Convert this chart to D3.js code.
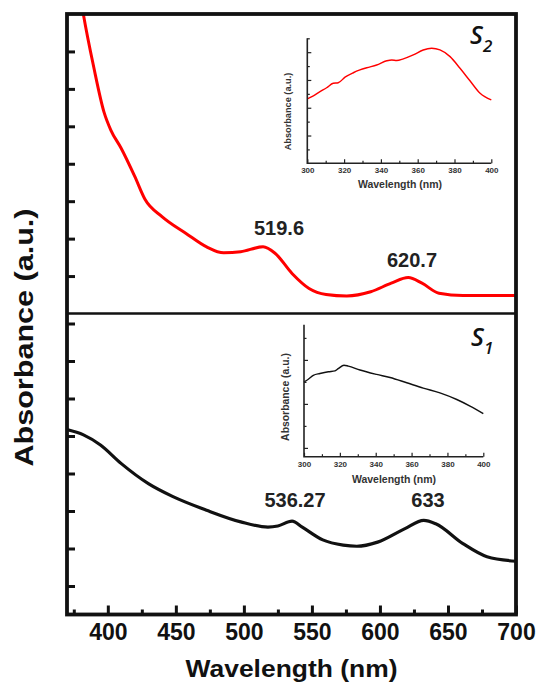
<!DOCTYPE html>
<html>
<head>
<meta charset="utf-8">
<script src="https://cdn.jsdelivr.net/npm/d3@7"></script>
<style>
  body { margin: 0; background: #fff; }
  text { font-family: Arial, "Liberation Sans", sans-serif; }
</style>
</head>
<body>
<div id="chart"></div>
<script>
// S2 (red) main spectrum, wavelength (nm) and absorbance (a.u.)
const s2Wavelength = [370, 376, 382, 389.6, 397.2, 402.2, 409.7, 419.8, 427.3, 439.8, 457.5, 472.6, 485.2, 497.7, 514.1, 522.9, 535.4, 547.9, 560.4, 575.6, 593.2, 608.3, 620.8, 630.9, 643.4, 661, 700];
const s2Absorbance = [11.0, 9.4, 8.0, 6.59, 5.38, 4.9, 4.42, 3.66, 3.05, 2.59, 2.14, 1.78, 1.62, 1.65, 1.78, 1.61, 1.07, 0.67, 0.51, 0.47, 0.58, 0.81, 0.96, 0.81, 0.54, 0.48, 0.48];

// S1 (black) main spectrum
const s1Wavelength = [370, 382.1, 394.6, 409.7, 429.8, 447.5, 472.6, 497.7, 517.7, 525, 535.4, 542.9, 558, 573, 583, 598.3, 618.4, 632.2, 641, 661, 678.7, 700];
const s1Absorbance = [5.17, 5.03, 4.76, 4.27, 3.73, 3.39, 3.02, 2.71, 2.57, 2.6, 2.73, 2.57, 2.23, 2.09, 2.06, 2.17, 2.53, 2.75, 2.66, 2.13, 1.78, 1.66];

// inset spectra (300-400 nm)
const s2InsetWavelength = [300, 303.3, 306.9, 310.5, 314.1, 316.8, 320.5, 325, 328.6, 332.3, 337.7, 343.2, 345.9, 348.6, 352.2, 357.6, 363, 367.6, 372.1, 377.6, 383, 388.4, 393.9, 400];
const s2InsetAbsorbance = [2.32, 2.43, 2.58, 2.72, 2.88, 2.9, 3.1, 3.26, 3.36, 3.44, 3.54, 3.69, 3.72, 3.7, 3.76, 3.9, 4.08, 4.14, 4.08, 3.84, 3.42, 2.97, 2.52, 2.28];

const s1InsetWavelength = [300, 302.4, 305.2, 308.9, 313.6, 317.3, 319.1, 322.3, 324.7, 331.2, 340.5, 348, 357.3, 366.5, 375.8, 385.2, 392.6, 400];
const s1InsetAbsorbance = [1.5, 1.56, 1.65, 1.69, 1.73, 1.75, 1.8, 1.88, 1.86, 1.77, 1.67, 1.6, 1.48, 1.36, 1.25, 1.1, 0.95, 0.78];

// tick values
const mainXTicks = [400, 450, 500, 550, 600, 650, 700];
const mainXMinorTicks = [375, 425, 475, 525, 575, 625, 675];
const topYTicks = [1, 2, 3, 4, 5, 6, 7];
const bottomYTicks = [1, 2, 3, 4, 5, 6, 7, 8];
const insetXTicks = [300, 320, 340, 360, 380, 400];
const insetXMinorTicks = [310, 330, 350, 370, 390];

// peak labels
const s2Peaks = [{ label: "519.6", x: 279, y: 235 }, { label: "620.7", x: 412, y: 267 }];
const s1Peaks = [{ label: "536.27", x: 295, y: 507 }, { label: "633", x: 428, y: 507 }];

const width = 537;
const height = 682;

const svg = d3.select("#chart")
  .append("svg")
  .attr("width", width)
  .attr("height", height);

svg.append("rect").attr("width", width).attr("height", height).attr("fill", "#fff");

const plotLeft = 67, plotRight = 516, plotTop = 14, plotMid = 313.5, plotBottom = 614.5;

const x = d3.scaleLinear().domain([370, 700]).range([plotLeft, plotRight]);
const yTop = d3.scaleLinear().domain([0, 8]).range([plotMid, plotTop]);
const yBottom = d3.scaleLinear().domain([0, 8]).range([623.5, 323.5]);

const defs = svg.append("defs");
defs.append("clipPath").attr("id", "clipTop")
  .append("rect").attr("x", plotLeft).attr("y", plotTop)
  .attr("width", plotRight - plotLeft).attr("height", plotMid - plotTop);
defs.append("clipPath").attr("id", "clipBottom")
  .append("rect").attr("x", plotLeft).attr("y", plotMid)
  .attr("width", plotRight - plotLeft).attr("height", plotBottom - plotMid);

const toPoints = (wl, ab) => wl.map((w, i) => [w, ab[i]]);

const drawCurve = (g, pts, xs, ys, color, w, clip) => {
  const line = d3.line()
    .x((d) => xs(d[0]))
    .y((d) => ys(d[1]))
    .curve(d3.curveMonotoneX);
  const p = g.append("path")
    .attr("d", line(pts))
    .attr("fill", "none")
    .attr("stroke", color)
    .attr("stroke-width", w)
    .attr("stroke-linejoin", "round");
  if (clip) p.attr("clip-path", `url(#${clip})`);
};

drawCurve(svg, toPoints(s2Wavelength, s2Absorbance), x, yTop, "#ff0000", 3, "clipTop");
drawCurve(svg, toPoints(s1Wavelength, s1Absorbance), x, yBottom, "#111", 3.2, "clipBottom");

// left ticks (inward)
svg.append("g")
  .attr("transform", `translate(${plotLeft},0)`)
  .call(d3.axisLeft(yTop).tickValues(topYTicks).tickSize(-8).tickFormat(""))
  .call((g) => g.select(".domain").remove())
  .call((g) => g.selectAll("line").attr("stroke", "#111").attr("stroke-width", 3));

svg.append("g")
  .attr("transform", `translate(${plotLeft},0)`)
  .call(d3.axisLeft(yBottom).tickValues(bottomYTicks).tickSize(-8).tickFormat(""))
  .call((g) => g.select(".domain").remove())
  .call((g) => g.selectAll("line").attr("stroke", "#111").attr("stroke-width", 3));

// bottom axis
svg.append("g")
  .attr("transform", `translate(0,${plotBottom})`)
  .call(d3.axisBottom(x).tickValues(mainXMinorTicks).tickSize(-5).tickFormat(""))
  .call((g) => g.select(".domain").remove())
  .call((g) => g.selectAll("line").attr("stroke", "#111").attr("stroke-width", 3));

svg.append("g")
  .attr("transform", `translate(0,${plotBottom})`)
  .call(d3.axisBottom(x).tickValues(mainXTicks).tickSize(-9).tickPadding(9))
  .call((g) => g.select(".domain").remove())
  .call((g) => g.selectAll("line").attr("stroke", "#111").attr("stroke-width", 3))
  .call((g) => g.selectAll("text")
    .attr("font-size", 23)
    .attr("font-weight", "bold")
    .attr("fill", "#111")
    .style("font-family", "Arial, 'Liberation Sans', sans-serif"));

// frame + divider
svg.append("line")
  .attr("x1", plotLeft).attr("x2", plotRight).attr("y1", plotMid).attr("y2", plotMid)
  .attr("stroke", "#111").attr("stroke-width", 2.5);
svg.append("rect")
  .attr("x", plotLeft).attr("y", plotTop)
  .attr("width", plotRight - plotLeft).attr("height", plotBottom - plotTop)
  .attr("fill", "none").attr("stroke", "#111").attr("stroke-width", 3.8);

// axis titles
svg.append("text")
  .attr("x", (plotLeft + plotRight) / 2)
  .attr("y", 677)
  .attr("text-anchor", "middle")
  .attr("font-size", 24)
  .attr("font-weight", "bold")
  .attr("fill", "#111")
  .attr("textLength", 212)
  .attr("lengthAdjust", "spacingAndGlyphs")
  .text("Wavelength (nm)");

svg.append("text")
  .attr("transform", "translate(33,337.5) rotate(-90)")
  .attr("text-anchor", "middle")
  .attr("font-size", 25)
  .attr("font-weight", "bold")
  .attr("fill", "#111")
  .attr("textLength", 258)
  .attr("lengthAdjust", "spacingAndGlyphs")
  .text("Absorbance (a.u.)");

// peak labels
const peakLabels = (peaks) => {
  svg.selectAll(null)
    .data(peaks)
    .enter()
    .append("text")
    .attr("x", (d) => d.x)
    .attr("y", (d) => d.y)
    .attr("text-anchor", "middle")
    .attr("font-size", 20)
    .attr("font-weight", "bold")
    .attr("fill", "#222")
    .text((d) => d.label);
};
peakLabels(s2Peaks);
peakLabels(s1Peaks);

// sample labels
const sampleLabel = (xPos, yPos, sub) => {
  const t = svg.append("text")
    .attr("x", xPos)
    .attr("y", yPos)
    .attr("font-size", 25)
    .attr("font-style", "italic")
    .attr("font-weight", 600)
    .attr("fill", "#111")
    .style("font-family", "'Open Sans', 'DejaVu Sans', sans-serif");
  t.append("tspan").text("S");
  t.append("tspan").attr("dy", 8).attr("font-size", 17).text(sub);
};
sampleLabel(470, 44, "2");
sampleLabel(471, 346, "1");

// insets
const drawInset = (cfg) => {
  const ix = d3.scaleLinear().domain([300, 400]).range([cfg.x0, cfg.x1]);
  const iy = d3.scaleLinear().domain(cfg.yDomain).range([cfg.y0, cfg.y1]);
  const g = svg.append("g");

  drawCurve(g, toPoints(cfg.wl, cfg.ab), ix, iy, cfg.color, 1.4, null);

  g.append("g")
    .attr("transform", `translate(0,${cfg.y0})`)
    .call(d3.axisBottom(ix).tickValues(insetXMinorTicks).tickSize(-2.5).tickFormat(""))
    .call((a) => a.select(".domain").remove());

  g.append("g")
    .attr("transform", `translate(0,${cfg.y0})`)
    .call(d3.axisBottom(ix).tickValues(insetXTicks).tickSize(-4).tickPadding(4.5))
    .call((a) => a.select(".domain").remove())
    .call((a) => a.selectAll("text")
      .attr("font-size", 8)
      .attr("font-weight", "bold")
      .attr("fill", "#333")
      .style("font-family", "Arial, 'Liberation Sans', sans-serif"));

  g.append("g")
    .attr("transform", `translate(${cfg.x0},0)`)
    .call(d3.axisLeft(iy).tickValues(cfg.yMinor).tickSize(-2.5).tickFormat(""))
    .call((a) => a.select(".domain").remove());

  g.append("g")
    .attr("transform", `translate(${cfg.x0},0)`)
    .call(d3.axisLeft(iy).tickValues(cfg.yMajor).tickSize(-4).tickFormat(""))
    .call((a) => a.select(".domain").remove());

  g.selectAll("line").attr("stroke", "#222").attr("stroke-width", 1.2);

  g.append("path")
    .attr("d", `M${cfg.x0},${cfg.y1}V${cfg.y0}H${cfg.x1}`)
    .attr("fill", "none")
    .attr("stroke", "#222")
    .attr("stroke-width", 1.6);

  g.append("text")
    .attr("x", cfg.xLabelX)
    .attr("y", cfg.xLabelY)
    .attr("text-anchor", "middle")
    .attr("font-size", 10.5)
    .attr("font-weight", "bold")
    .attr("fill", "#333")
    .text("Wavelength (nm)");

  g.append("text")
    .attr("transform", `translate(${cfg.yLabelX},${cfg.yLabelY}) rotate(-90)`)
    .attr("text-anchor", "middle")
    .attr("font-size", cfg.yLabelSize)
    .attr("font-weight", "bold")
    .attr("fill", "#333")
    .text("Absorbance (a.u.)");
};

drawInset({
  x0: 307.3, x1: 491.3, y0: 163.3, y1: 38.3,
  yDomain: [0, 4.5],
  yMajor: [1, 2, 3, 4],
  yMinor: [0.5, 1.5, 2.5, 3.5, 4.5],
  wl: s2InsetWavelength, ab: s2InsetAbsorbance, color: "#ff0000",
  xLabelX: 400, xLabelY: 188.3,
  yLabelX: 290.5, yLabelY: 111.5, yLabelSize: 9.2
});

drawInset({
  x0: 304, x1: 483.3, y0: 456.7, y1: 324.7,
  yDomain: [-0.2, 2.8],
  yMajor: [0, 1, 2],
  yMinor: [0.5, 1.5, 2.5],
  wl: s1InsetWavelength, ab: s1InsetAbsorbance, color: "#111",
  xLabelX: 394, xLabelY: 483.3,
  yLabelX: 288.5, yLabelY: 397, yLabelSize: 10.4
});
</script>
</body>
</html>
